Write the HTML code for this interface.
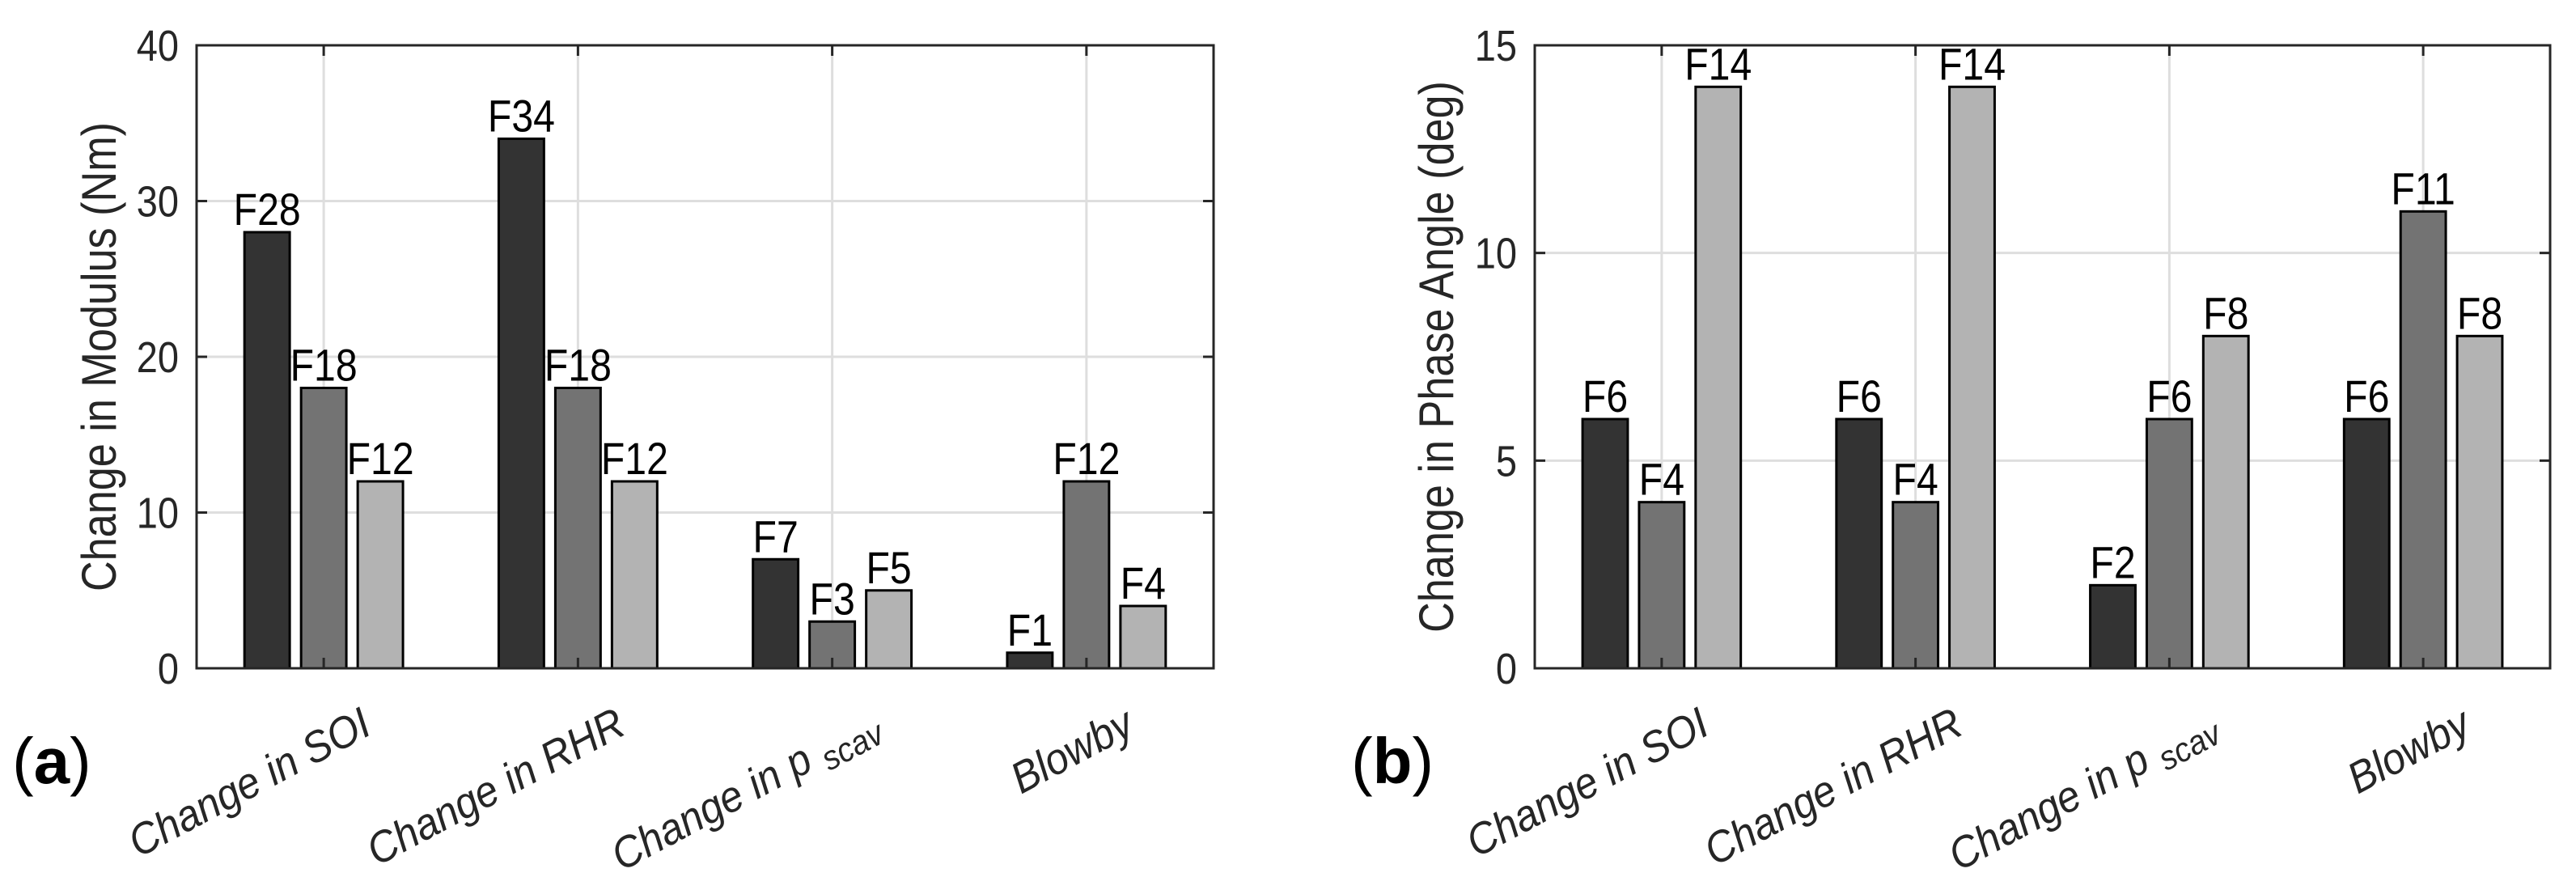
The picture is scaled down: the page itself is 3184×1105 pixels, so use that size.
<!DOCTYPE html>
<html><head><meta charset="utf-8">
<style>
html,body{margin:0;padding:0;background:#fff;}
svg{display:block;font-family:"Liberation Sans",Arial,sans-serif;}
</style></head>
<body>
<svg id="fig" width="3184" height="1105" viewBox="0 0 3184 1105" xmlns="http://www.w3.org/2000/svg"></svg>
<script>
const categories = ["Change in SOI", "Change in RHR", "Change in p_scav", "Blowby"];
const modulusValues = [[28,18,12],[34,18,12],[7,3,5],[1,12,4]];
const phaseValues = [[6,4,14],[6,4,14],[2,6,8],[6,11,8]];
const modulusTicks = [0,10,20,30,40];
const phaseTicks = [0,5,10,15];

const NS = "http://www.w3.org/2000/svg";
const svg = document.getElementById("fig");
const colors = ["#333333","#737373","#b3b3b3"];
function mk(tag, attrs, parent){
  const e = document.createElementNS(NS, tag);
  for (const k in attrs) e.setAttribute(k, attrs[k]);
  (parent||svg).appendChild(e);
  return e;
}
function txt(parent, x, y, rot, sx, attrs){
  attrs.x = 0; attrs.y = 0;
  attrs.transform = `translate(${x} ${y}) rotate(${rot}) scale(${sx} 1)`;
  return mk("text", attrs, parent);
}

function drawChart(opt){
  const g = mk("g", {});
  
  
  const L=opt.left, R=opt.right, T=56, B=826;
  const ymax = opt.ticks[opt.ticks.length-1];
  const xs = v => L + (v-0.5)/4*(R-L);
  const ys = v => B - v/ymax*(B-T);
  opt.ticks.forEach(t=>{
    if (t>0 && t<ymax){
      const gl = mk("line",{x1:L,x2:R,y1:ys(t),y2:ys(t),stroke:"#dedede","stroke-width":3},g);
      
      
    }
  });
  categories.forEach((c,i)=>{
    const gl = mk("line",{x1:xs(i+1),x2:xs(i+1),y1:T,y2:B,stroke:"#dedede","stroke-width":3},g);
    
    
  });
  const off=[-0.2227,0,0.2227], bw=0.178;
  opt.values.forEach((grp,i)=>{
    grp.forEach((v,j)=>{
      const cx = i+1+off[j];
      const x0 = xs(cx-bw/2), x1 = xs(cx+bw/2);
      const r = mk("rect",{x:x0,y:ys(v),width:x1-x0,height:ys(0)-ys(v),fill:colors[j],stroke:"#000","stroke-width":3},g);
      
      
      const t = txt(g,(x0+x1)/2,ys(v)-9,0,0.86,{"text-anchor":"middle","font-size":56,fill:"#000"});
      t.textContent = "F"+v;
      
      
    });
  });
  const box = mk("rect",{x:L,y:T,width:R-L,height:B-T,fill:"none",stroke:"#262626","stroke-width":3},g);
  
  
  opt.ticks.forEach(t=>{
    mk("line",{x1:L,x2:L+13,y1:ys(t),y2:ys(t),stroke:"#262626","stroke-width":3},g);
    mk("line",{x1:R,x2:R-13,y1:ys(t),y2:ys(t),stroke:"#262626","stroke-width":3},g);
    const tl = txt(g,L-22,ys(t)+19,0,0.87,{"text-anchor":"end","font-size":54,fill:"#262626"});
    tl.textContent = t;
    
    
  });
  categories.forEach((c,i)=>{
    const x = xs(i+1);
    mk("line",{x1:x,x2:x,y1:B,y2:B-13,stroke:"#262626","stroke-width":3},g);
    mk("line",{x1:x,x2:x,y1:T,y2:T+13,stroke:"#262626","stroke-width":3},g);
    const t = txt(g,x+62,906,-28,0.93,{"text-anchor":"end","font-size":54,"font-style":"italic",fill:"#262626"});
    
    
    if (c.indexOf("_")>=0){
      const parts = c.split("_");
      const a = mk("tspan",{},t); a.textContent = parts[0]+" ";
      const b = mk("tspan",{"font-size":42,dy:11},t); b.textContent = parts[1];
    } else t.textContent = c;
  });
  const yl = txt(g,opt.ylx,(T+B)/2,-90,0.87,{"text-anchor":"middle","font-size":60,fill:"#262626"});
  yl.textContent = opt.ylabel;
  
  
  const pl = mk("text",{x:opt.px,y:968,"font-size":80,fill:"#000"},g);
  
  
  const p1 = mk("tspan",{},pl); p1.textContent="(";
  const p2 = mk("tspan",{"font-weight":"bold"},pl); p2.textContent=opt.letter;
  const p3 = mk("tspan",{},pl); p3.textContent=")";
}

drawChart({name:"modulus-chart",left:243,right:1500,values:modulusValues,ticks:modulusTicks,ylabel:"Change in Modulus (Nm)",ylx:143,letter:"a",px:15});
drawChart({name:"phase-chart",left:1897,right:3152,values:phaseValues,ticks:phaseTicks,ylabel:"Change in Phase Angle (deg)",ylx:1796,letter:"b",px:1670});
</script>
</body></html>
